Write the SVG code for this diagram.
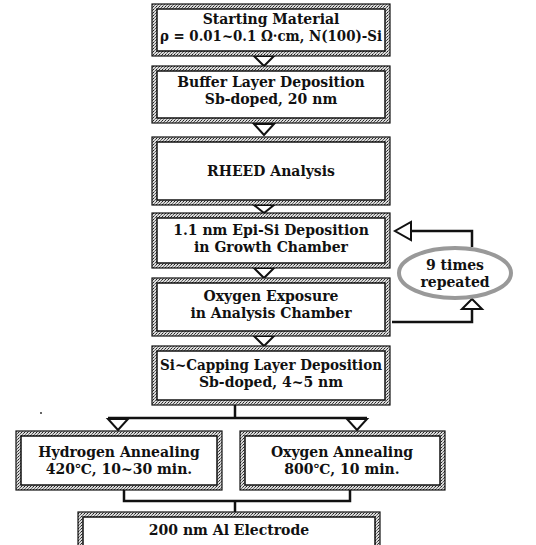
<svg xmlns="http://www.w3.org/2000/svg" width="536" height="545" viewBox="0 0 536 545">
<defs>
<pattern id="tex" width="3" height="3" patternUnits="userSpaceOnUse">
<rect width="3" height="3" fill="#dadada"/>
<rect x="0" y="0" width="1" height="1" fill="#222"/>
<rect x="2" y="1" width="1" height="1" fill="#555"/>
<rect x="1" y="2" width="1" height="1" fill="#777"/>
</pattern>
</defs>
<style>
.frame{fill:url(#tex);stroke:#111;stroke-width:1.2}
.inner{fill:#fff;stroke:#111;stroke-width:1.5}
.t{font-family:"DejaVu Serif","Liberation Serif",serif;font-weight:bold;font-size:14px;fill:#111;text-anchor:middle}
.ln{fill:none;stroke:#111;stroke-width:2.5}
.tri{fill:#fff;stroke:#111;stroke-width:2;stroke-linejoin:miter}
.ell{fill:#fff;stroke:#999;stroke-width:4}
</style>
<rect width="536" height="545" fill="#fff"/>

<g id="connectors">
<polygon class="tri" points="254,56 274,56 264,66"/>
<polygon class="tri" points="254,124 274,124 264,135"/>
<polygon class="tri" points="254,205 274,205 264,213"/>
<polygon class="tri" points="254,268 274,268 264,278"/>
<polygon class="tri" points="254,336 274,336 264,346"/>
<polyline class="ln" points="392,322 472,322 472,309"/>
<polygon class="tri" points="462,309 482,309 472,299"/>
<polyline class="ln" points="472,247 472,231 411,231"/>
<polygon class="tri" points="411,222 411,240 395,231"/>
<line class="ln" x1="235" y1="405" x2="235" y2="418"/>
<line class="ln" x1="108" y1="418" x2="367" y2="418"/>
<polygon class="tri" points="108,419 128,419 118,430"/>
<polygon class="tri" points="347,419 367,419 357,430"/>
<polyline class="ln" points="124,490 124,501 350,501 350,490"/>
<line class="ln" x1="235" y1="501" x2="235" y2="513"/>
</g>

<g id="n1">
<rect class="frame" x="152" y="4" width="238" height="52"/>
<rect class="inner" x="157" y="9" width="228" height="42"/>
<text class="t" x="271" y="24">Starting Material</text>
<text class="t" x="271" y="41" textLength="222" lengthAdjust="spacingAndGlyphs">ρ = 0.01~0.1 Ω·cm, N(100)-Si</text>
</g>
<g id="n2">
<rect class="frame" x="152" y="66" width="238" height="57"/>
<rect class="inner" x="157" y="71" width="228" height="47"/>
<text class="t" x="271" y="87">Buffer Layer Deposition</text>
<text class="t" x="271" y="104">Sb-doped, 20 nm</text>
</g>
<g id="n3">
<rect class="frame" x="152" y="137" width="238" height="68"/>
<rect class="inner" x="157" y="142" width="228" height="58"/>
<text class="t" x="271" y="176">RHEED Analysis</text>
</g>
<g id="n4">
<rect class="frame" x="152" y="213" width="238" height="55"/>
<rect class="inner" x="157" y="218" width="228" height="45"/>
<text class="t" x="271" y="235">1.1 nm Epi-Si Deposition</text>
<text class="t" x="271" y="252">in Growth Chamber</text>
</g>
<g id="n5">
<rect class="frame" x="152" y="278" width="238" height="58"/>
<rect class="inner" x="157" y="283" width="228" height="48"/>
<text class="t" x="271" y="301">Oxygen Exposure</text>
<text class="t" x="271" y="318">in Analysis Chamber</text>
</g>
<g id="n6">
<rect class="frame" x="152" y="346" width="238" height="59"/>
<rect class="inner" x="157" y="351" width="228" height="49"/>
<text class="t" x="271" y="370" textLength="222" lengthAdjust="spacingAndGlyphs">Si~Capping Layer Deposition</text>
<text class="t" x="271" y="387">Sb-doped, 4~5 nm</text>
</g>
<g id="loop">
<ellipse class="ell" cx="455" cy="273" rx="56" ry="25"/>
<text class="t" x="455" y="270">9 times</text>
<text class="t" x="455" y="287">repeated</text>
</g>
<g id="n7">
<rect class="frame" x="16" y="431" width="206" height="59"/>
<rect class="inner" x="21" y="436" width="196" height="49"/>
<text class="t" x="119" y="457">Hydrogen Annealing</text>
<text class="t" x="119" y="474">420℃, 10~30 min.</text>
</g>
<g id="n8">
<rect class="frame" x="240" y="431" width="205" height="59"/>
<rect class="inner" x="245" y="436" width="195" height="49"/>
<text class="t" x="342" y="457">Oxygen Annealing</text>
<text class="t" x="342" y="474">800℃, 10 min.</text>
</g>
<g id="n9">
<rect class="frame" x="78" y="512" width="302" height="34"/>
<rect class="inner" x="83" y="517" width="292" height="30"/>
<text class="t" x="229" y="535">200 nm Al Electrode</text>
</g>
<circle cx="41" cy="413" r="1" fill="#333"/>
</svg>
